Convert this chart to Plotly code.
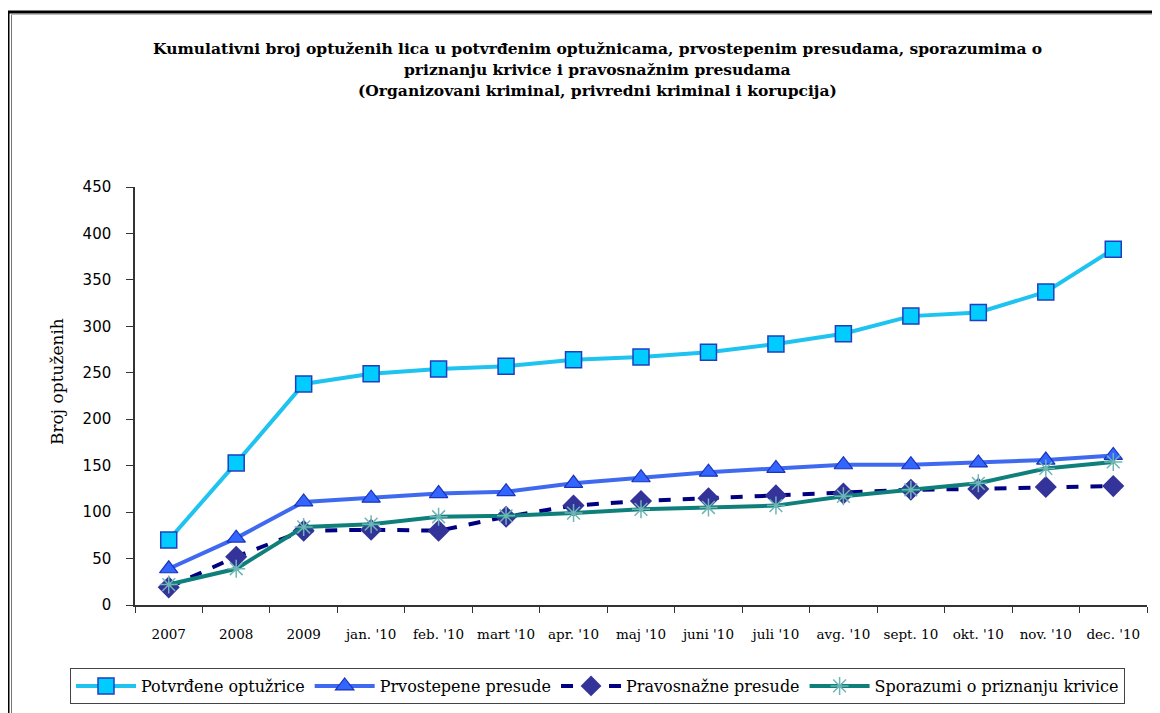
import plotly.graph_objects as go

categories = ["2007", "2008", "2009", "jan. '10", "feb. '10", "mart '10", "apr. '10",
              "maj '10", "juni '10", "juli '10", "avg. '10", "sept. 10", "okt. '10",
              "nov. '10", "dec. '10"]

potvrdjene = [70, 153, 238, 249, 254, 257, 264, 267, 272, 281, 292, 311, 315, 337, 383]
prvostepene = [39, 72, 111, 115, 120, 122, 131, 137, 143, 147, 151, 151, 153, 156, 161]
pravosnazne = [19, 52, 80, 81, 80, 95, 107, 112, 115, 118, 120, 124, 125, 127, 128]
sporazumi = [22, 39, 84, 87, 95, 96, 99, 103, 105, 107, 117, 124, 131, 147, 154]

series_names = ["Potvrđene optužrice", "Prvostepene presude", "Pravosnažne presude",
                "Sporazumi o priznanju krivice"]

title_lines = [
    "Kumulativni broj optuženih lica u potvrđenim optužnicama, prvostepenim presudama, sporazumima o",
    "priznanju krivice i pravosnažnim presudama",
    "(Organizovani kriminal, privredni kriminal i korupcija)",
]
y_title = "Broj optuženih"

# page body has an 8px margin; target pixel positions are screen positions
OFF = 8
W, H = 1152, 705
L, R, T, B = 135 - OFF, 13, 187 - OFF, 108
pw, ph = W - L - R, H - T - B


def px_x(p):
    return (p - OFF - L) / pw


def px_y(p):
    return (H - B - (p - OFF)) / ph


wide_serif = "DejaVu Serif"

fig = go.Figure()
fig.add_trace(go.Scatter(
    x=categories, y=potvrdjene, name=series_names[0], mode="lines+markers",
    line=dict(color="#1FC3F0", width=4),
    marker=dict(symbol="square", size=16, color="#00CCFF", line=dict(color="#1F3FBF", width=1.5)),
))
fig.add_trace(go.Scatter(
    x=categories, y=prvostepene, name=series_names[1], mode="lines+markers",
    line=dict(color="#3F6AF0", width=4),
    marker=dict(symbol="triangle-up", size=16, color="#3366FF", line=dict(color="#1A33BB", width=1.2)),
))
fig.add_trace(go.Scatter(
    x=categories, y=pravosnazne, name=series_names[2], mode="lines+markers",
    line=dict(color="#000080", width=4, dash="dash"),
    marker=dict(symbol="diamond", size=17, color="#333399"),
))
fig.add_trace(go.Scatter(
    x=categories, y=sporazumi, name=series_names[3], mode="lines+markers",
    line=dict(color="#0E7F7A", width=4),
    marker=dict(symbol="asterisk-open", size=15, color="#6FB5B5", line=dict(color="#6FB5B5", width=1.5)),
))

annotations = []
for i, t in enumerate(title_lines):
    annotations.append(dict(
        text="<b>" + t + "</b>", x=px_x(597), xref="paper", xanchor="center",
        y=px_y(48 + i * 21.5), yref="paper", yanchor="middle", showarrow=False,
        font=dict(family=wide_serif, size=15.5, color="#000000"),
    ))
annotations.append(dict(
    text=y_title, x=px_x(57), xref="paper", xanchor="center",
    y=px_y(382), yref="paper", yanchor="middle", showarrow=False, textangle=-90,
    font=dict(family=wide_serif, size=17, color="#000000"),
))

shapes = [
    dict(type="line", xref="paper", yref="paper", x0=px_x(8), x1=px_x(8), y0=px_y(730), y1=px_y(11),
         line=dict(color="#000000", width=3)),
    dict(type="line", xref="paper", yref="paper", x0=px_x(7), x1=px_x(1180), y0=px_y(12), y1=px_y(12),
         line=dict(color="#000000", width=3)),
    dict(type="line", xref="paper", yref="paper", x0=px_x(11.5), x1=px_x(11.5), y0=px_y(730), y1=px_y(14),
         line=dict(color="#777777", width=1)),
    dict(type="line", xref="paper", yref="paper", x0=px_x(11), x1=px_x(1180), y0=px_y(14.5), y1=px_y(14.5),
         line=dict(color="#BBBBBB", width=1)),
]

fig.update_layout(
    width=W, height=H,
    margin=dict(l=L, r=R, t=T, b=B, autoexpand=False),
    paper_bgcolor="#FFFFFF", plot_bgcolor="#FFFFFF",
    font=dict(family=wide_serif, size=13, color="#000000"),
    annotations=annotations,
    shapes=shapes,
    showlegend=True,
    legend=dict(
        orientation="h", x=px_x(70), xanchor="left", y=px_y(668), yanchor="top",
        bordercolor="#444444", borderwidth=1, bgcolor="#FFFFFF",
        font=dict(family=wide_serif, size=16, color="#000000"),
        itemwidth=60,
        tracegroupgap=0,
    ),
    xaxis=dict(
        type="category", categoryorder="array", categoryarray=categories,
        tickson="boundaries", ticks="outside", ticklen=6, tickcolor="#333333",
        showline=True, linecolor="#333333", linewidth=1.5, showgrid=False,
        tickfont=dict(family=wide_serif, size=13.5, color="#000000"), zeroline=False,
        range=[-0.5, 14.5], ticklabelstandoff=16, tickangle=0,
    ),
    yaxis=dict(
        range=[0, 450], dtick=50, ticks="outside", ticklen=7, tickcolor="#333333",
        showline=True, linecolor="#333333", linewidth=1.5, showgrid=False, zeroline=False,
        tickfont=dict(family="DejaVu Sans", size=15, color="#000000"),
        ticklabelstandoff=12,
    ),
)

fig.write_html("out.html")
